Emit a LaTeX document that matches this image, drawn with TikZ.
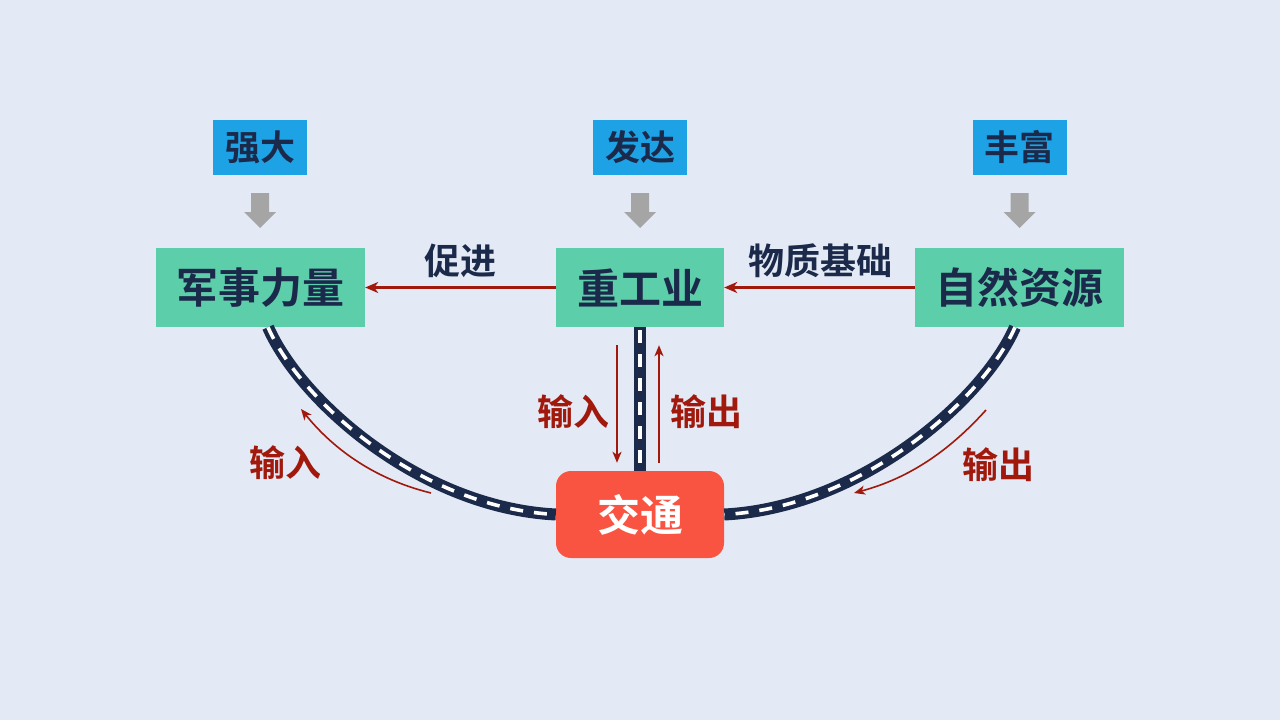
\documentclass[tikz,border=0pt]{standalone}
\usepackage{fontspec}
\newfontfamily\cjk{Noto Sans CJK SC}[BoldFont={Noto Sans CJK SC Bold}]
\usetikzlibrary{arrows.meta,calc}
\definecolor{bg}{HTML}{E4EAF5}
\definecolor{topblue}{HTML}{1EA2E6}
\definecolor{boxgreen}{HTML}{5DCEAA}
\definecolor{jtred}{HTML}{F95441}
\definecolor{navy}{HTML}{1B2A4A}
\definecolor{darkred}{HTML}{A0190C}
\definecolor{arrowgray}{HTML}{A5A5A5}
\tikzset{
  topbox/.style={fill=topblue, text=navy, minimum width=94pt, minimum height=55pt, inner sep=0pt, font=\cjk\bfseries\fontsize{35}{35}\selectfont},
  mainbox/.style={fill=boxgreen, text=navy, minimum height=79pt, inner sep=0pt, font=\cjk\bfseries\fontsize{42}{42}\selectfont},
  jtbox/.style={fill=jtred, text=white, rounded corners=15pt, minimum width=168pt, minimum height=87pt, inner sep=0pt, font=\cjk\bfseries\fontsize{43}{43}\selectfont},
  navylabel/.style={text=navy, inner sep=0pt, font=\cjk\bfseries\fontsize{36}{36}\selectfont},
  redlabel/.style={text=darkred, inner sep=0pt, font=\cjk\bfseries\fontsize{36}{36}\selectfont},
  redarrow/.style={draw=darkred, line width=2.2pt, -{Stealth[length=13pt,width=11pt,inset=4pt]}},
  thinarrow/.style={draw=darkred, line width=1.6pt, -{Stealth[length=11pt,width=9pt,inset=3pt]}},
  roadbase/.style={draw=navy, line width=12pt},
  roadline/.style={draw=white, line width=3.6pt, dash pattern=on 13pt off 11pt},
}
\newcommand\grayarrow[1]{\fill[arrowgray] (#1) ++(-9,0) -- ++(18,0) -- ++(0,19) -- ++(7,0) -- ++(-16,16) -- ++(-16,-16) -- ++(7,0) -- cycle;}
\begin{document}
\begin{tikzpicture}[x=1pt,y=-1pt]
\fill[bg] (0,0) rectangle (1280,720);
\useasboundingbox (0,0) rectangle (1280,720);

% top boxes
\node[topbox] (qd) at (260,147.5) {强大};
\node[topbox] (fd) at (640,147.5) {发达};
\node[topbox] (ff) at (1019.5,147.5) {丰富};

% gray arrows
\grayarrow{260,193}
\grayarrow{640,193}
\grayarrow{1019.5,193}

% main boxes
\node[mainbox, minimum width=209pt] (mil) at (260.5,287.5) {军事力量};
\node[mainbox, minimum width=168pt] (hi) at (640,287.5) {重工业};
\node[mainbox, minimum width=209pt] (res) at (1019.5,287.5) {自然资源};
\node[jtbox] (jt) at (640,514.5) {交通};

% roads
\coordinate (ls) at ($(mil.south)+(7.5,0)$);
\coordinate (rs) at ($(res.south)+(-4.5,0)$);
\draw[roadbase] (ls) .. controls ($(ls)+(32,73)$) and ($(jt.west)+(-136,-7)$) .. (jt.west);
\draw[roadline] (ls) .. controls ($(ls)+(32,73)$) and ($(jt.west)+(-136,-7)$) .. (jt.west);
\draw[roadbase] (rs) .. controls ($(rs)+(-32,73)$) and ($(jt.east)+(136,-7)$) .. (jt.east);
\draw[roadline] (rs) .. controls ($(rs)+(-32,73)$) and ($(jt.east)+(136,-7)$) .. (jt.east);
\draw[roadbase] (hi.south) -- (jt.north);
\draw[roadline] ($(hi.south)+(0,3)$) -- (jt.north);

% horizontal arrows
\draw[redarrow] (hi.west) -- (mil.east);
\draw[redarrow] (res.west) -- (hi.east);
\node[navylabel] (cj) at (460,261) {促进};
\node[navylabel] (wz) at (820,261) {物质基础};

% vertical arrows
\draw[thinarrow] ($(hi.south)+(-23,18)$) -- ($(jt.north)+(-23,-8)$);
\draw[thinarrow] ($(jt.north)+(19,-8)$) -- ($(hi.south)+(19,18)$);
\node[redlabel] (in1) at (573,412) {输入};
\node[redlabel] (out1) at (706,412) {输出};

% curved arrows
\coordinate (la) at (431,493);
\coordinate (lb) at (301,409);
\draw[thinarrow] (la) .. controls (370,478) and (330,445) .. (lb);
\node[redlabel] (in2) at (285,463) {输入};
\coordinate (ra) at (986,410);
\coordinate (rb) at (854,493);
\draw[thinarrow] (ra) .. controls (950,450) and (910,478) .. (rb);
\node[redlabel] (out2) at (998,465) {输出};
\end{tikzpicture}
\end{document}
